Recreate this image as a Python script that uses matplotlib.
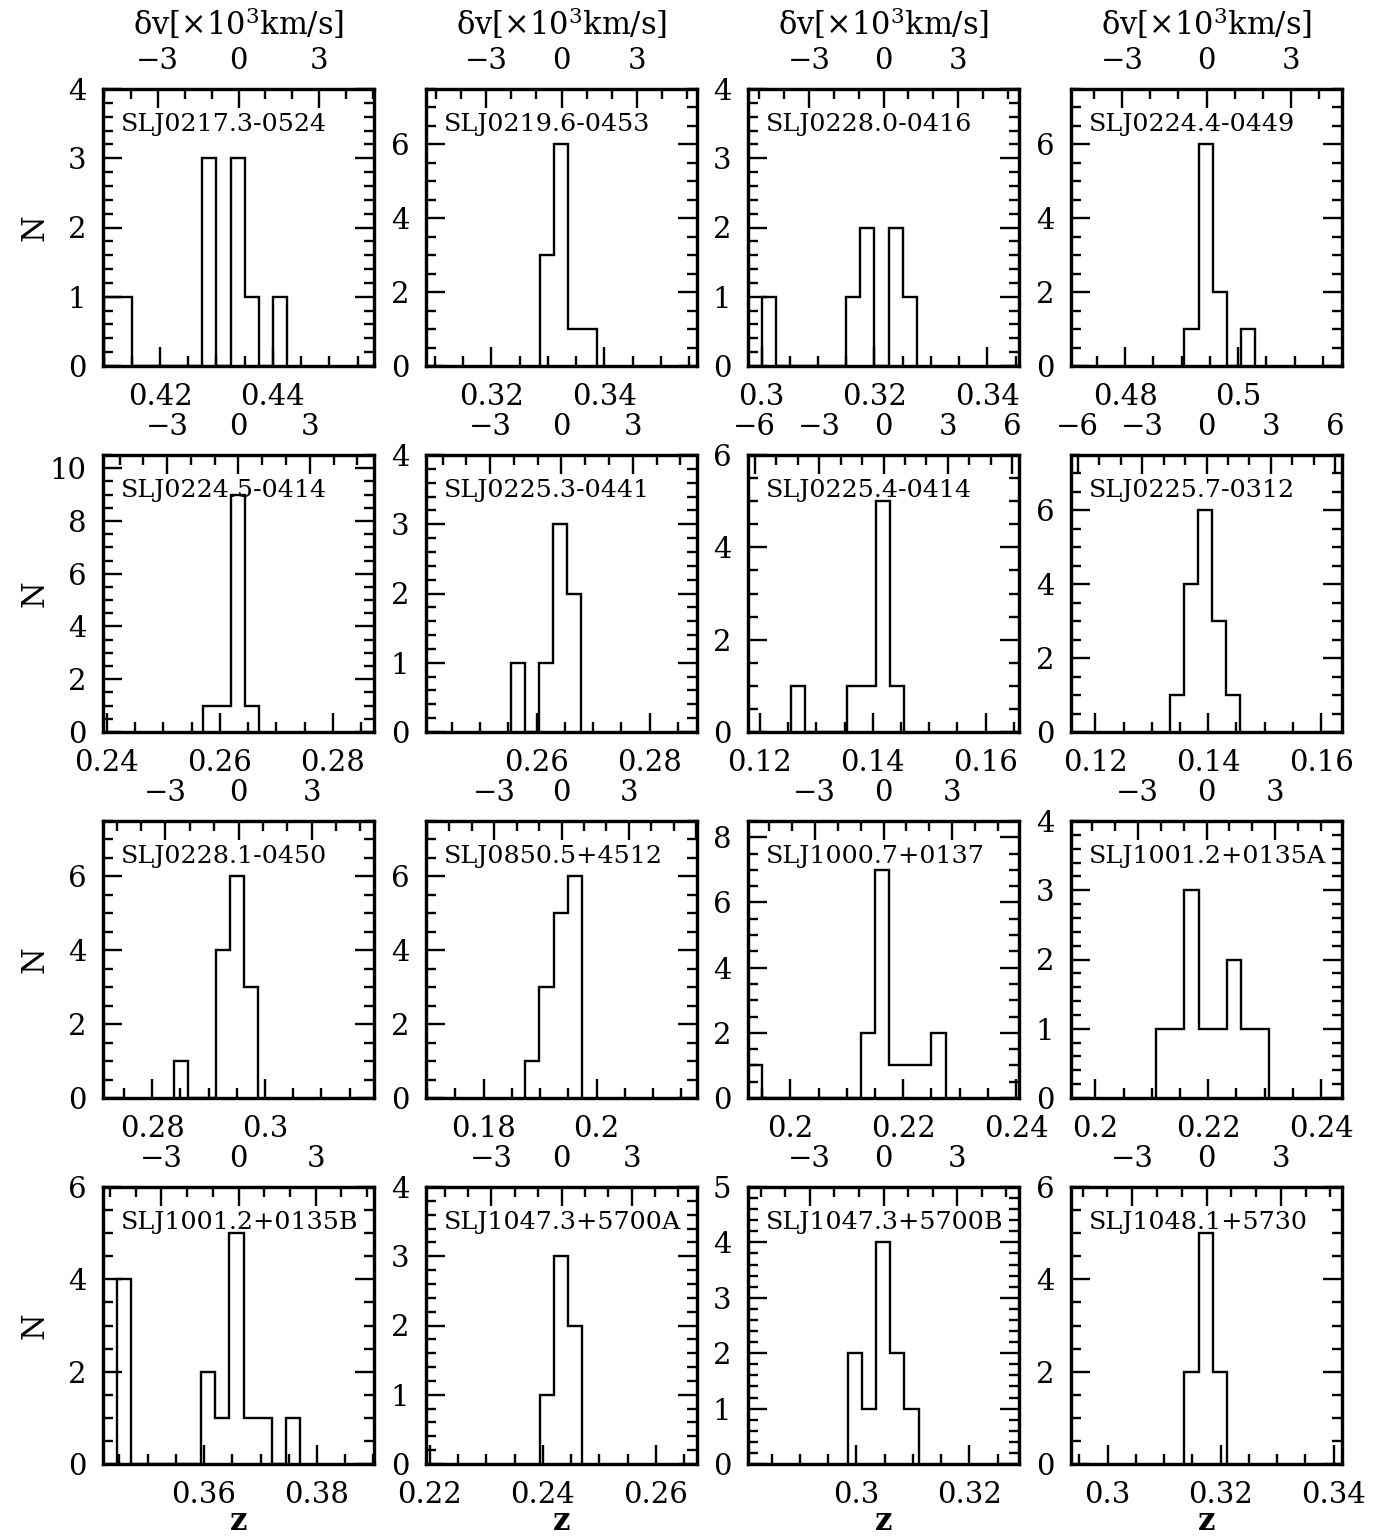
import matplotlib
matplotlib.use('Agg')
import matplotlib.pyplot as plt
from matplotlib.ticker import MultipleLocator, FuncFormatter

plt.rcParams['font.family'] = 'DejaVu Serif'
plt.rcParams['mathtext.fontset'] = 'dejavuserif'

# constants
C_KMS = 3.0e5      # speed of light, km/s
BIN = 0.0025       # histogram bin width in z
HALF = 0.024       # half width of the z window

# Data (one entry per panel, row by row)
names = ['SLJ0217.3-0524', 'SLJ0219.6-0453', 'SLJ0228.0-0416', 'SLJ0224.4-0449',
         'SLJ0224.5-0414', 'SLJ0225.3-0441', 'SLJ0225.4-0414', 'SLJ0225.7-0312',
         'SLJ0228.1-0450', 'SLJ0850.5+4512', 'SLJ1000.7+0137', 'SLJ1001.2+0135A',
         'SLJ1001.2+0135B', 'SLJ1047.3+5700A', 'SLJ1047.3+5700B', 'SLJ1048.1+5730']
z_cl = [0.4339, 0.3324, 0.3216, 0.4944,
        0.2633, 0.2644, 0.1419, 0.1397,
        0.2953, 0.1938, 0.2165, 0.2197,
        0.3661, 0.2433, 0.3048, 0.3175]
bin_start = [0.4100, 0.3286, 0.3000, 0.4905,
             0.2570, 0.2554, 0.1255, 0.1332,
             0.2838, 0.1874, 0.1925, 0.2108,
             0.3445, 0.2395, 0.2985, 0.3136]
counts = [
    [1, 1, 0, 0, 0, 0, 0, 3, 0, 3, 1, 0, 1],
    [3, 6, 1, 1],
    [1, 0, 0, 0, 0, 0, 1, 2, 0, 2, 1],
    [1, 6, 2, 0, 1],
    [1, 1, 9, 1],
    [1, 0, 1, 3, 2],
    [1, 0, 0, 0, 1, 1, 5, 1],
    [1, 4, 6, 3, 1],
    [1, 0, 0, 4, 6, 3],
    [1, 3, 5, 6],
    [1, 0, 0, 0, 0, 0, 0, 0, 2, 7, 1, 1, 1, 2],
    [1, 1, 3, 1, 1, 2, 1, 1],
    [4, 0, 0, 0, 0, 0, 2, 1, 5, 1, 1, 0, 1],
    [1, 3, 2],
    [2, 1, 4, 2, 1],
    [2, 5, 2],
]
n_max = [4, 7.5, 4, 7.5,
         10.5, 4, 6, 7.5,
         7.5, 7.5, 8.5, 4,
         6, 4, 5, 6]

W, H = 1397, 1538
fig = plt.figure(figsize=(W / 100, H / 100), dpi=100)

col_left = [103, 426, 748, 1071]
row_top = [89, 455, 821, 1187]
pw, ph = 271, 277

TICK_FS = 21
LABEL_FS = 22
NAME_FS = 18.3
MAJ, MIN = 14, 7


def zfmt(v, pos):
    return f'{v:g}'


for i in range(16):
    r, c = divmod(i, 4)
    ax = fig.add_axes([col_left[c] / W, 1 - (row_top[r] + ph) / H, pw / W, ph / H])
    zc = z_cl[i]
    x0, x1 = zc - HALF, zc + HALF
    edges = [bin_start[i] + k * BIN for k in range(len(counts[i]) + 1)]
    ax.stairs(counts[i], edges, color='black', lw=1.7, baseline=0)
    ax.set_xlim(x0, x1)
    ax.set_ylim(0, n_max[i])

    ax.xaxis.set_major_locator(MultipleLocator(0.02))
    ax.xaxis.set_minor_locator(MultipleLocator(0.005))
    ax.xaxis.set_major_formatter(FuncFormatter(zfmt))
    if n_max[i] <= 5:
        ax.yaxis.set_major_locator(MultipleLocator(1))
        ax.yaxis.set_minor_locator(MultipleLocator(0.2))
    else:
        ax.yaxis.set_major_locator(MultipleLocator(2))
        ax.yaxis.set_minor_locator(MultipleLocator(0.5))
    ax.yaxis.set_major_formatter(FuncFormatter(lambda v, p: f'{int(round(v))}'))

    ax.tick_params(which='both', direction='in', top=False, right=True, width=1.7,
                   labelsize=TICK_FS)
    ax.tick_params(which='major', length=MAJ)
    ax.tick_params(which='minor', length=MIN)
    ax.tick_params(axis='x', pad=12)
    ax.tick_params(axis='y', pad=12)
    for s in ax.spines.values():
        s.set_linewidth(2.3)

    # velocity axis on top
    dv0 = (x0 - zc) / (1 + zc) * C_KMS / 1e3
    dv1 = (x1 - zc) / (1 + zc) * C_KMS / 1e3
    tw = ax.twiny()
    tw.set_xlim(dv0, dv1)
    tw.xaxis.set_major_locator(MultipleLocator(3))
    tw.xaxis.set_minor_locator(MultipleLocator(1))

    def vfmt(v, pos, lo=dv0, hi=dv1):
        if v < lo + 0.1 or v > hi - 0.1:
            return ''
        return f'{int(round(v))}'.replace('-', '\u2212')

    tw.xaxis.set_major_formatter(FuncFormatter(vfmt))
    tw.tick_params(which='both', direction='in', top=True, bottom=False, width=1.7,
                   labelsize=TICK_FS, pad=10)
    tw.tick_params(which='major', length=MAJ)
    tw.tick_params(which='minor', length=MIN)
    for s in tw.spines.values():
        s.set_linewidth(2.3)

    ax.text(0.066, 0.847, names[i], transform=ax.transAxes, fontsize=NAME_FS,
            ha='left', va='baseline')

    if r == 0:
        fig.text((col_left[c] + pw / 2) / W, 1 - 24 / H, r'δv[×10$^3$km/s]',
                 ha='center', va='center', fontsize=LABEL_FS)
    if r == 3:
        fig.text((col_left[c] + pw / 2) / W, 1 - 1522 / H, 'z',
                 ha='center', va='center', fontsize=LABEL_FS, fontweight='bold')
    if c == 0:
        fig.text(35 / W, 1 - (row_top[r] + ph / 2) / H, 'N', rotation=90,
                 ha='center', va='center', fontsize=LABEL_FS)

fig.savefig('out.png', dpi=100, facecolor='white')
